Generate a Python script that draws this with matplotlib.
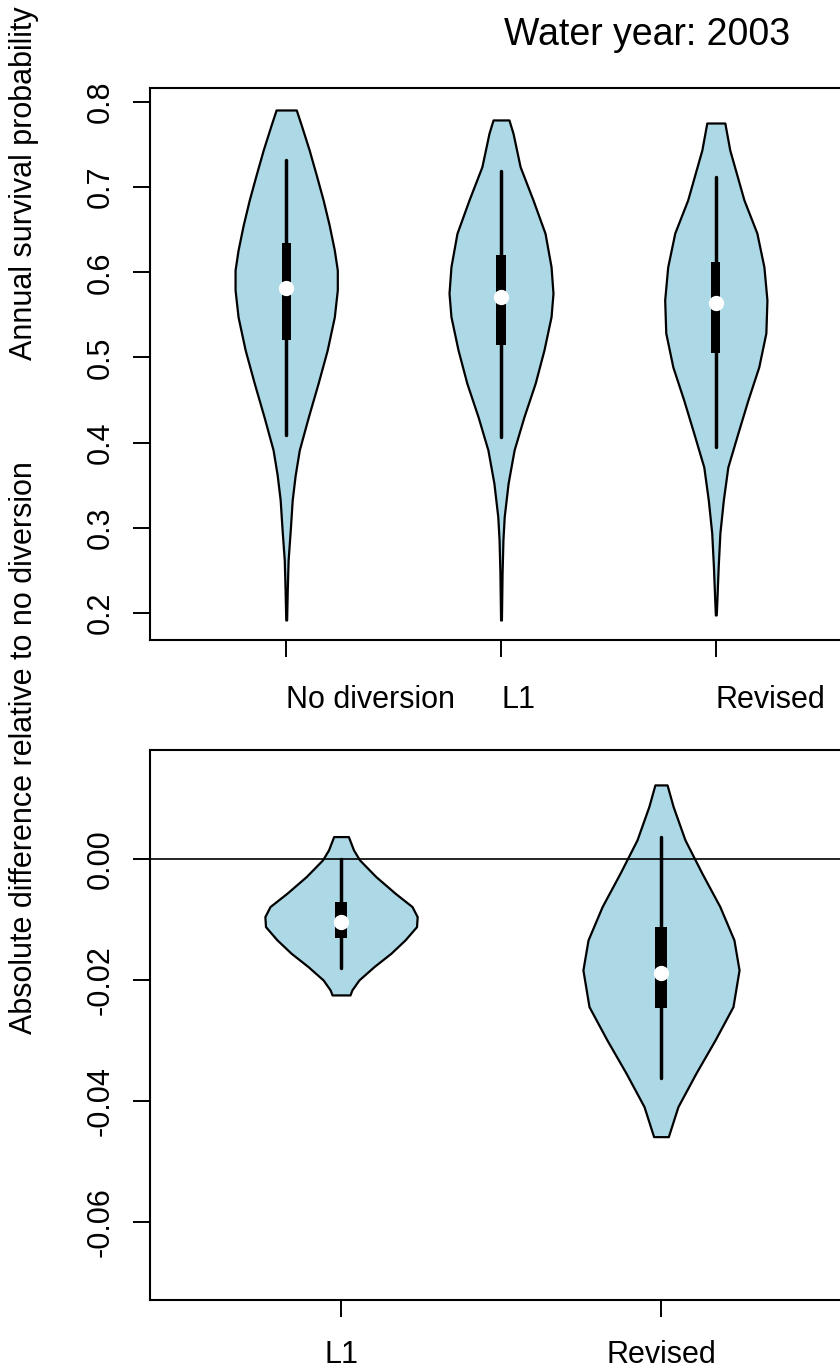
import matplotlib
matplotlib.use("Agg")
import matplotlib.pyplot as plt
from matplotlib.patches import Rectangle

plt.rcParams['font.family'] = ['Liberation Sans', 'DejaVu Sans']

# ---------------- data: top panel (annual survival probability) ----------------
top_groups = ["No diversion", "L1", "Revised"]

# violin outlines: y values and half-widths (x-axis units)
nd_y = [0.7906, 0.7730, 0.7436, 0.7143, 0.6849, 0.6556, 0.6262, 0.6027, 0.5793, 0.5476,
        0.5088, 0.4701, 0.4301, 0.3914, 0.3621, 0.3327, 0.2975, 0.2622, 0.2270, 0.1918]
nd_w = [0.047, 0.070, 0.107, 0.140, 0.172, 0.200, 0.224, 0.238, 0.238, 0.224,
        0.191, 0.149, 0.103, 0.061, 0.042, 0.028, 0.019, 0.009, 0.005, 0.002]

l1_y = [0.7789, 0.7632, 0.7240, 0.6849, 0.6458, 0.6066, 0.5754, 0.5479, 0.5088, 0.4697,
        0.4305, 0.3914, 0.3523, 0.3131, 0.2857, 0.2466, 0.1918]
l1_w = [0.037, 0.056, 0.089, 0.149, 0.205, 0.233, 0.242, 0.233, 0.200, 0.159,
        0.107, 0.061, 0.033, 0.015, 0.009, 0.005, 0.002]

rv_y = [0.7753, 0.7436, 0.7143, 0.6849, 0.6462, 0.6063, 0.5675, 0.5288, 0.4889, 0.4497,
        0.4114, 0.3714, 0.3327, 0.2939, 0.2540, 0.2153, 0.1977]
rv_w = [0.042, 0.065, 0.098, 0.131, 0.191, 0.224, 0.238, 0.233, 0.200, 0.149,
        0.103, 0.056, 0.035, 0.019, 0.011, 0.005, 0.002]

top_whisk_lo = [0.409, 0.407, 0.395]
top_whisk_hi = [0.732, 0.719, 0.712]
top_q1 = [0.521, 0.515, 0.505]
top_q3 = [0.634, 0.620, 0.612]
top_med = [0.582, 0.571, 0.564]

top_yticks = [0.2, 0.3, 0.4, 0.5, 0.6, 0.7, 0.8]
top_yticklabels = ["0.2", "0.3", "0.4", "0.5", "0.6", "0.7", "0.8"]

# ---------------- data: bottom panel (difference to no diversion) ----------------
bot_groups = ["L1", "Revised"]

dl1_y = [0.00369, 0.00149, -0.00017, -0.00293, -0.00567, -0.00788, -0.00954,
         -0.01119, -0.01339, -0.01559, -0.01780, -0.02000, -0.02165, -0.02248]
dl1_w = [0.023, 0.039, 0.058, 0.109, 0.169, 0.222, 0.238,
         0.236, 0.200, 0.156, 0.103, 0.056, 0.034, 0.028]

drv_y = [0.01223, 0.00865, 0.00314, -0.00237, -0.00788, -0.01339, -0.01835,
         -0.02441, -0.02992, -0.03543, -0.04094, -0.04590]
drv_w = [0.019, 0.038, 0.075, 0.128, 0.184, 0.228, 0.244, 0.225, 0.169, 0.109, 0.053, 0.023]

bot_whisk_lo = [-0.0181, -0.0362]
bot_whisk_hi = [0.0000, 0.0037]
bot_q1 = [-0.0131, -0.0246]
bot_q3 = [-0.0071, -0.0112]
bot_med = [-0.0104, -0.0189]

bot_yticks = [0.00, -0.02, -0.04, -0.06]
bot_yticklabels = ["0.00", "-0.02", "-0.04", "-0.06"]

title_text = "Water year: 2003"
ylabel_top = "Annual survival probability"
ylabel_bot = "Absolute difference relative to no diversion"

# ---------------- drawing ----------------
FILL = "#ADD8E6"
FS = 22
W, H = 840, 1372
fig = plt.figure(figsize=(W / 100, H / 100), dpi=100)


def draw_violin(ax, pos, ys, ws, lo, hi, q1, q3, med, boxw):
    left = [pos - w for w in ws]
    right = [pos + w for w in ws]
    ax.fill_betweenx(ys, left, right, facecolor=FILL, edgecolor="black",
                     linewidth=1.6, zorder=2)
    ax.plot([pos, pos], [lo, hi], color="black", lw=2.5,
            solid_capstyle="round", zorder=3)
    ax.add_patch(Rectangle((pos - boxw / 2, q1), boxw, q3 - q1,
                           facecolor="black", edgecolor="none", zorder=4))
    ax.plot([pos], [med], "o", color="white", ms=10, mec="white", zorder=5)


def style_axes(ax):
    for s in ax.spines.values():
        s.set_linewidth(1.5)
    ax.tick_params(axis="both", length=12.5, width=1.4, labelsize=FS,
                   direction="out")


# top panel
ax1 = fig.add_axes([150 / W, 1 - 640 / H, 702 / W, 552 / H])
top_data = [(nd_y, nd_w), (l1_y, l1_w), (rv_y, rv_w)]
for i, (ys, ws) in enumerate(top_data):
    draw_violin(ax1, i + 1, ys, ws, top_whisk_lo[i], top_whisk_hi[i],
                top_q1[i], top_q3[i], top_med[i], 0.042)
ax1.set_xlim(0.366, 3.634)
ax1.set_ylim(0.1683, 0.8164)
ax1.set_xticks([1, 2, 3])
ax1.set_xticklabels(top_groups, ha="left")
ax1.set_yticks(top_yticks)
ax1.set_yticklabels(top_yticklabels, rotation=90, va="center")
style_axes(ax1)
ax1.tick_params(axis="x", pad=20)
ax1.tick_params(axis="y", pad=12)

# bottom panel
ax2 = fig.add_axes([150 / W, 1 - 1300 / H, 702 / W, 550 / H])
bot_data = [(dl1_y, dl1_w), (drv_y, drv_w)]
for i, (ys, ws) in enumerate(bot_data):
    draw_violin(ax2, i + 1, ys, ws, bot_whisk_lo[i], bot_whisk_hi[i],
                bot_q1[i], bot_q3[i], bot_med[i], 0.035)
ax2.axhline(0, color="black", lw=1.2, zorder=3.5)
ax2.set_xlim(0.403, 2.597)
ax2.set_ylim(-0.0729, 0.0180)
ax2.set_xticks([1, 2])
ax2.set_xticklabels(bot_groups)
ax2.set_yticks(bot_yticks)
ax2.set_yticklabels(bot_yticklabels, rotation=90, va="center")
style_axes(ax2)
ax2.tick_params(axis="x", pad=16)
ax2.tick_params(axis="y", pad=12)

# texts
fig.text(647 / W, 1 - 35 / H, title_text, ha="center", va="center", fontsize=27)
fig.text(24 / W, 1 - 183 / H, ylabel_top, rotation=90, ha="center", va="center",
         fontsize=FS)
fig.text(24 / W, 1 - 748 / H, ylabel_bot, rotation=90, ha="center", va="center",
         fontsize=FS)

fig.savefig("out.png", dpi=100)
